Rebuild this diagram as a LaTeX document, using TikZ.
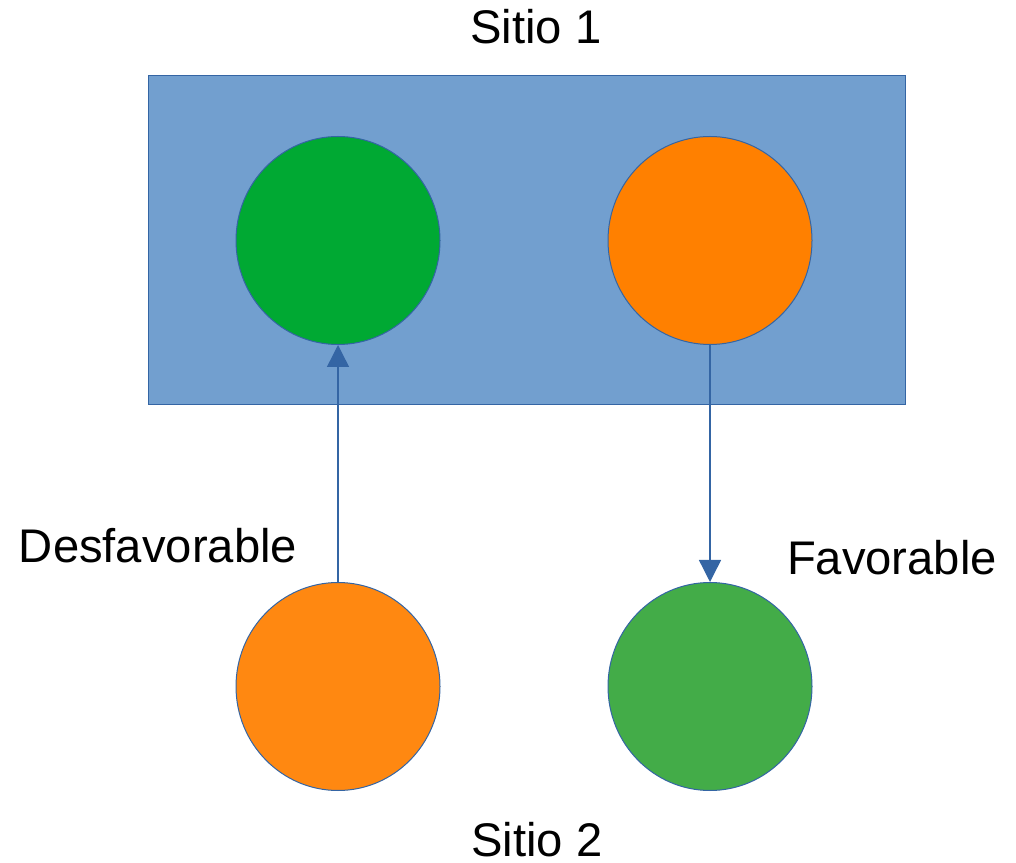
\documentclass[tikz,border=0pt]{standalone}
\usepackage{fontspec}
\setmainfont{Liberation Sans}
\usetikzlibrary{arrows.meta,shapes.geometric}
\definecolor{siteblue}{HTML}{729FCF}
\definecolor{edgeblue}{HTML}{3465A4}
\definecolor{topgreen}{HTML}{00A933}
\definecolor{toporange}{HTML}{FF8000}
\definecolor{lowgreen}{HTML}{43AC48}
\definecolor{loworange}{HTML}{FF8811}
\tikzset{
every picture/.style={x=0.5pt, y=0.5pt},
ball/.style={ellipse, draw=edgeblue, line width=0.5pt, inner sep=0pt, minimum width=102pt, minimum height=104pt},
label/.style={font=\fontsize{23.6}{28}\selectfont},
move/.style={draw=edgeblue, line width=0.7pt, -{Triangle[width=11pt, length=11pt]}}
}

\begin{document}
\begin{tikzpicture}
      \useasboundingbox (0,0) rectangle (1016,862);
      \fill[siteblue, draw=edgeblue, line width=0.5pt] (148,457) rectangle (905,786);
      \node[ball, fill=topgreen] (g1) at (338,621.5) {};
      \node[ball, fill=toporange] (o1) at (710,621.5) {};
      \node[ball, fill=loworange] (o2) at (338,175.5) {};
      \node[ball, fill=lowgreen] (g2) at (710,175.5) {};
      \node[label] (s1) at (536,835) {Sitio 1};
      \node[label] (s2) at (537,22) {Sitio 2};
      \node[label] (bad) at (158,316) {Desfavorable};
      \node[label] (good) at (892,304) {Favorable};
      \draw[move] (o2) -- (g1);
      \draw[move] (o1) -- (g2);
    \end{tikzpicture}
\end{document}
